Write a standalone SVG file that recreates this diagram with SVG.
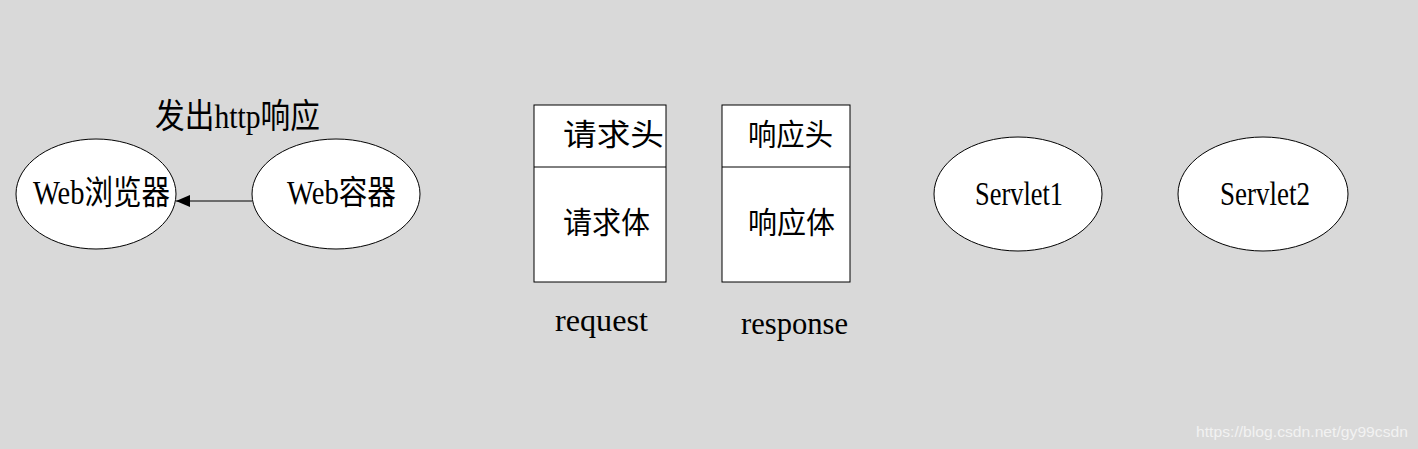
<svg xmlns="http://www.w3.org/2000/svg" width="1418" height="449" viewBox="0 0 1418 449">
<defs>
<style>
.shape{fill:#ffffff;stroke:#000000;stroke-width:1}
.t{font-family:"Liberation Serif","Noto Sans CJK SC",serif;fill:#000000}
.wm{font-family:"Liberation Sans",Arial,sans-serif;font-size:15px;fill:#f2f2f2}
</style>
<marker id="arr" markerWidth="14" markerHeight="12" refX="14" refY="6" orient="auto" markerUnits="userSpaceOnUse">
<path d="M0,0 L14,6 L0,12 Z" fill="#000000"/>
</marker>
</defs>
<rect x="0" y="0" width="1418" height="449" fill="#d9d9d9"/>
<g id="connectors">
<line x1="252" y1="201" x2="176" y2="201" stroke="#000000" stroke-width="1" marker-end="url(#arr)"/>
<text class="t" x="155" y="128" font-size="34" textLength="165" lengthAdjust="spacingAndGlyphs">发出http响应</text>
</g>
<g id="browser">
<ellipse class="shape" cx="96" cy="194" rx="80" ry="55"/>
<text class="t" x="33" y="204" font-size="33" textLength="137" lengthAdjust="spacingAndGlyphs">Web浏览器</text>
</g>
<g id="container">
<ellipse class="shape" cx="336" cy="194" rx="84" ry="55"/>
<text class="t" x="287" y="204" font-size="33" textLength="109" lengthAdjust="spacingAndGlyphs">Web容器</text>
</g>
<g id="request">
<rect class="shape" x="534" y="105" width="132" height="177"/>
<line x1="534" y1="167" x2="666" y2="167" stroke="#000000"/>
<text class="t" x="563" y="145" font-size="30" textLength="101" lengthAdjust="spacingAndGlyphs">请求头</text>
<text class="t" x="563" y="233" font-size="30" textLength="87" lengthAdjust="spacingAndGlyphs">请求体</text>
<text class="t" x="555" y="331" font-size="31" textLength="93" lengthAdjust="spacingAndGlyphs">request</text>
</g>
<g id="response">
<rect class="shape" x="722" y="105" width="128" height="177"/>
<line x1="722" y1="167" x2="850" y2="167" stroke="#000000"/>
<text class="t" x="748" y="145" font-size="30" textLength="85" lengthAdjust="spacingAndGlyphs">响应头</text>
<text class="t" x="748" y="233" font-size="30" textLength="87" lengthAdjust="spacingAndGlyphs">响应体</text>
<text class="t" x="741" y="334" font-size="31" textLength="107" lengthAdjust="spacingAndGlyphs">response</text>
</g>
<g id="servlet1">
<ellipse class="shape" cx="1018" cy="194" rx="84" ry="57"/>
<text class="t" x="975" y="205" font-size="34" textLength="88" lengthAdjust="spacingAndGlyphs">Servlet1</text>
</g>
<g id="servlet2">
<ellipse class="shape" cx="1263" cy="194" rx="85" ry="57"/>
<text class="t" x="1220" y="205" font-size="34" textLength="90" lengthAdjust="spacingAndGlyphs">Servlet2</text>
</g>
<text class="wm" x="1196" y="437" textLength="212" lengthAdjust="spacingAndGlyphs">https://blog.csdn.net/gy99csdn</text>
</svg>
